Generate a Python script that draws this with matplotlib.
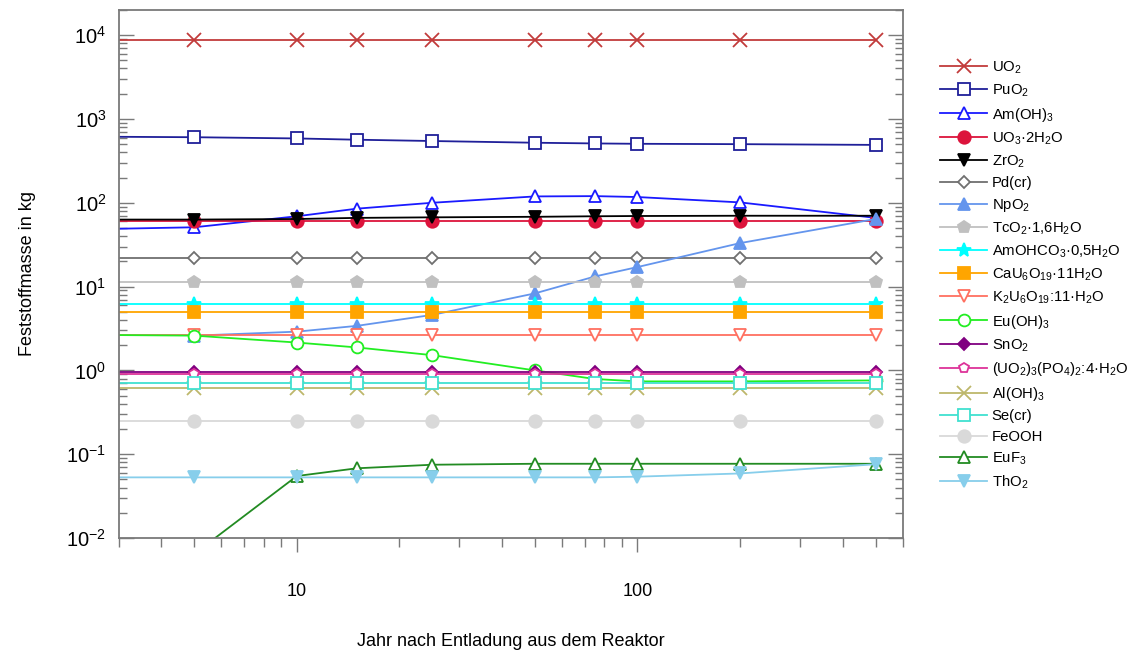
import matplotlib
import matplotlib.pyplot as plt
import numpy as np
from matplotlib.ticker import FixedLocator, LogLocator, NullFormatter, LogFormatterMathtext

matplotlib.use('Agg')

plt.rcParams['font.family'] = ['Liberation Sans', 'DejaVu Sans']
plt.rcParams['mathtext.fontset'] = 'custom'
plt.rcParams['mathtext.rm'] = 'Liberation Sans'
plt.rcParams['mathtext.it'] = 'Liberation Sans:italic'
plt.rcParams['mathtext.bf'] = 'Liberation Sans:bold'

# years after unloading (first point is the left edge, no marker drawn there)
years = [3, 5, 10, 15, 25, 50, 75, 100, 200, 500]

uo2 = [8800, 8800, 8800, 8800, 8800, 8800, 8800, 8800, 8800, 8800]
puo2 = [612, 605, 585, 565, 545, 520, 510, 505, 500, 490]
am_oh3 = [49, 51, 69, 85, 100, 119, 120, 117, 101, 66]
uo3_2h2o = [61, 61, 61, 61, 61, 61, 61, 61, 61, 61]
zro2 = [63, 63, 64, 66, 67, 68, 69, 69.5, 70, 70]
pd_cr = [22, 22, 22, 22, 22, 22, 22, 22, 22, 22]
npo2 = [None, 2.6, 2.9, 3.4, 4.6, 8.3, 13.2, 17.1, 33, 64]
tco2 = [11.2, 11.2, 11.2, 11.2, 11.2, 11.2, 11.2, 11.2, 11.2, 11.2]
amohco3 = [6.2, 6.2, 6.2, 6.2, 6.2, 6.2, 6.2, 6.2, 6.2, 6.2]
cau6o19 = [5.0, 5.0, 5.0, 5.0, 5.0, 5.0, 5.0, 5.0, 5.0, 5.0]
k2u6o19 = [2.64, 2.64, 2.64, 2.64, 2.64, 2.64, 2.64, 2.64, 2.64, 2.64]
eu_oh3 = [2.64, 2.6, 2.15, 1.88, 1.52, 1.0, 0.79, 0.74, 0.74, 0.76]
sno2 = [0.97, 0.97, 0.97, 0.97, 0.97, 0.97, 0.97, 0.97, 0.97, 0.97]
uo2_po4 = [0.905, 0.905, 0.905, 0.905, 0.905, 0.905, 0.905, 0.905, 0.905, 0.905]
al_oh3 = [0.62, 0.62, 0.62, 0.62, 0.62, 0.62, 0.62, 0.62, 0.62, 0.62]
se_cr = [0.71, 0.71, 0.71, 0.71, 0.71, 0.71, 0.71, 0.71, 0.71, 0.71]
feooh = [0.25, 0.25, 0.25, 0.25, 0.25, 0.25, 0.25, 0.25, 0.25, 0.25]
euf3 = [None, 0.0065, 0.055, 0.068, 0.075, 0.077, 0.077, 0.077, 0.077, 0.077]
tho2 = [0.053, 0.053, 0.053, 0.053, 0.053, 0.053, 0.053, 0.054, 0.059, 0.076]

# label, values, colour, marker, filled, marker size
series = [
    ('UO$_2$', uo2, '#c23b3b', 'x', True, 10),
    ('PuO$_2$', puo2, '#1f1f99', 's', False, 8),
    ('Am(OH)$_3$', am_oh3, '#1a1aff', '^', False, 8),
    ('UO$_3$·2H$_2$O', uo3_2h2o, '#dc143c', 'o', True, 9),
    ('ZrO$_2$', zro2, '#000000', 'v', True, 9),
    ('Pd(cr)', pd_cr, '#707070', 'D', False, 6.5),
    ('NpO$_2$', npo2, '#6495ed', '^', True, 9),
    ('TcO$_2$·1,6H$_2$O', tco2, '#c0c0c0', 'p', True, 9),
    ('AmOHCO$_3$·0,5H$_2$O', amohco3, '#00ffff', '*', True, 10),
    ('CaU$_6$O$_{19}$·11H$_2$O', cau6o19, '#ffa500', 's', True, 9),
    ('K$_2$U$_6$O$_{19}$:11·H$_2$O', k2u6o19, '#ff7060', 'v', False, 8),
    ('Eu(OH)$_3$', eu_oh3, '#22ee22', 'o', False, 8.5),
    ('SnO$_2$', sno2, '#800080', 'D', True, 6.5),
    ('(UO$_2$)$_3$(PO$_4$)$_2$:4·H$_2$O', uo2_po4, '#dd3399', 'p', False, 7),
    ('Al(OH)$_3$', al_oh3, '#bdb76b', 'x', True, 10),
    ('Se(cr)', se_cr, '#40e0d0', 's', False, 8),
    ('FeOOH', feooh, '#d9d9d9', 'o', True, 9),
    ('EuF$_3$', euf3, '#228b22', '^', False, 8),
    ('ThO$_2$', tho2, '#87ceeb', 'v', True, 9),
]

fig = plt.figure(figsize=(11.31, 6.57), dpi=100)
ax = fig.add_axes([0.105, 0.181, 0.693, 0.804])

for label, vals, color, marker, filled, ms in series:
    x = [xv for xv, yv in zip(years, vals) if yv is not None]
    y = [yv for yv in vals if yv is not None]
    first = 1 if x[0] == years[0] else 0
    ax.plot(x, y, color=color, lw=1.3, marker=marker, ms=ms,
            markevery=slice(first, None),
            mfc=color if filled else 'white', mec=color, mew=1.3,
            label=label)

ax.set_xscale('log')
ax.set_yscale('log')
ax.set_xlim(3, 600)
ax.set_ylim(1e-2, 2e4)

ax.xaxis.set_major_locator(FixedLocator([10, 100]))
ax.xaxis.set_minor_locator(FixedLocator([3, 4, 5, 6, 7, 8, 9, 20, 30, 40, 50, 60, 70, 80, 90,
                                         200, 300, 400, 500, 600]))
ax.xaxis.set_major_formatter(plt.FuncFormatter(lambda v, p: f'{v:g}'))
ax.xaxis.set_minor_formatter(NullFormatter())
ax.yaxis.set_major_locator(LogLocator(base=10, numticks=10))
ax.yaxis.set_minor_locator(LogLocator(base=10, subs=np.arange(2, 10), numticks=20))
ax.yaxis.set_major_formatter(LogFormatterMathtext())
ax.yaxis.set_minor_formatter(NullFormatter())

spine_col = '#7a7a7a'
for s in ax.spines.values():
    s.set_color(spine_col)
    s.set_linewidth(1.3)

ax.tick_params(axis='x', which='major', direction='out', length=10, width=1, color=spine_col,
               pad=22, labelsize=13)
ax.tick_params(axis='x', which='minor', direction='out', length=6.5, width=1, color=spine_col)
ax.tick_params(axis='y', which='major', direction='in', length=11, width=1, color=spine_col,
               right=True, pad=9, labelsize=14.5)
ax.tick_params(axis='y', which='minor', direction='in', length=5.5, width=1, color=spine_col,
               right=True)

ax.set_xlabel('Jahr nach Entladung aus dem Reaktor', fontsize=13, labelpad=24)
ax.set_ylabel('Feststoffmasse in kg', fontsize=13, labelpad=22)

ax.legend(loc='upper left', bbox_to_anchor=(1.04, 0.917), frameon=False, fontsize=10.7,
          handlelength=3.2, handletextpad=0.3, labelspacing=0.445, borderaxespad=0)

fig.savefig('out.png', dpi=100)
